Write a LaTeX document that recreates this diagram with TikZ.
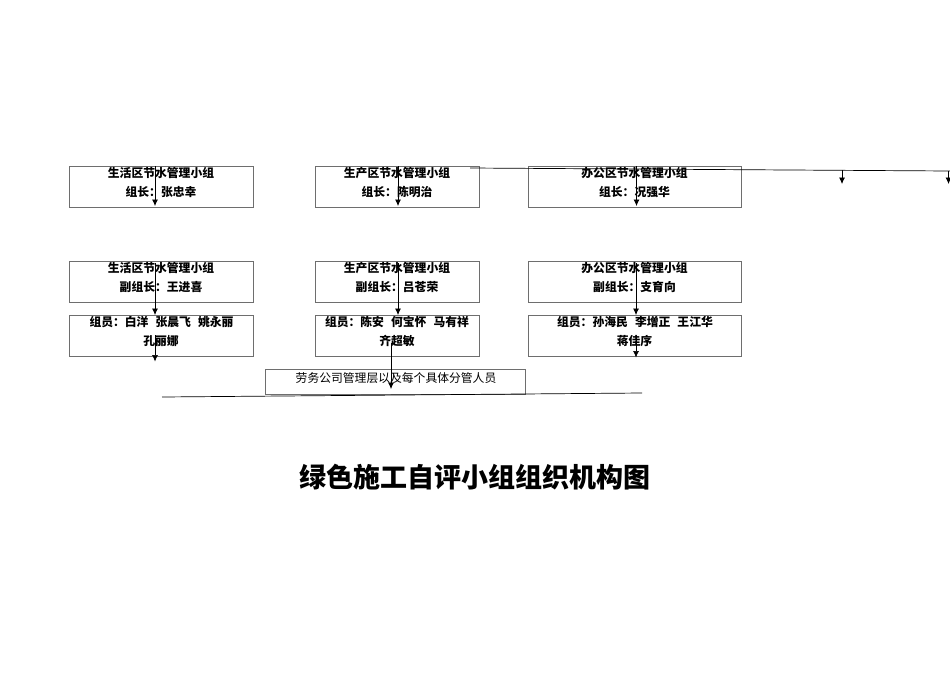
\documentclass[tikz,border=0pt]{standalone}
\usepackage{fontspec}
\setmainfont{Noto Sans CJK SC}
\usetikzlibrary{arrows.meta}
\definecolor{boxgray}{RGB}{110,110,110}
\tikzset{
  box/.style={draw=boxgray, line width=0.8pt, inner sep=0pt, minimum height=41pt},
  lbl/.style={font=\fontsize{11.8}{13}\selectfont\bfseries, inner sep=0pt},
  plain/.style={font=\fontsize{11.8}{13}\selectfont, inner sep=0pt},
  ttl/.style={font=\fontsize{27}{30}\selectfont\bfseries, inner sep=0pt},
  arr/.style={-{Latex[length=6.5pt,width=6pt]}, line width=0.7pt},
  ln/.style={line width=0.7pt},
}
\begin{document}
\begin{tikzpicture}[x=1pt,y=-1pt]
\useasboundingbox (0,0) rectangle (950,672);
% boxes
\node[box, minimum width=184pt] (A1) at (161,187) {};
\node[box, minimum width=164pt] (B1) at (397,187) {};
\node[box, minimum width=213pt] (C1) at (634.5,187) {};
\node[box, minimum width=184pt] (A2) at (161,281.5) {};
\node[box, minimum width=164pt] (B2) at (397,281.5) {};
\node[box, minimum width=213pt] (C2) at (634.5,281.5) {};
\node[box, minimum width=184pt] (A3) at (161,335.5) {};
\node[box, minimum width=164pt] (B3) at (397,335.5) {};
\node[box, minimum width=213pt] (C3) at (634.5,335.5) {};
\node[box, minimum width=260pt, minimum height=25pt] (D) at (395,382) {};
% texts
\node[lbl] (A1a) at (161,173) {生活区节水管理小组};
\node[lbl] (A1b) at (161,192) {组长：张忠幸};
\node[lbl] (B1a) at (397,173) {生产区节水管理小组};
\node[lbl] (B1b) at (397,192) {组长：陈明治};
\node[lbl] (C1a) at (634.5,173) {办公区节水管理小组};
\node[lbl] (C1b) at (634.5,192) {组长：况强华};
\node[lbl] (A2a) at (161,268) {生活区节水管理小组};
\node[lbl] (A2b) at (161,287) {副组长：王进喜};
\node[lbl] (B2a) at (397,268) {生产区节水管理小组};
\node[lbl] (B2b) at (397,287) {副组长：吕苍荣};
\node[lbl] (C2a) at (634.5,268) {办公区节水管理小组};
\node[lbl] (C2b) at (634.5,287) {副组长：支育向};
\node[lbl] (A3a) at (161.5,322) {组员：白洋\hspace{0.6em}张晨飞\hspace{0.6em}姚永丽};
\node[lbl] (A3b) at (161,341) {孔丽娜};
\node[lbl] (B3a) at (397,322) {组员：陈安\hspace{0.6em}何宝怀\hspace{0.6em}马有祥};
\node[lbl] (B3b) at (397,341) {齐超敏};
\node[lbl] (C3a) at (635,322) {组员：孙海民\hspace{0.6em}李增正\hspace{0.6em}王江华};
\node[lbl] (C3b) at (634.5,341) {蒋佳序};
\node[plain] (Dt) at (396,378) {劳务公司管理层以及每个具体分管人员};
\node[ttl] (T) at (475,477) {绿色施工自评小组组织机构图};
% connector coordinates
\coordinate (a1s) at (155,166); \coordinate (a1e) at (155,206);
\coordinate (b1s) at (398,166); \coordinate (b1e) at (398,206);
\coordinate (c1s) at (636.5,166); \coordinate (c1e) at (636.5,206);
\coordinate (hs) at (470,168); \coordinate (he) at (950,171);
\coordinate (h1s) at (842,170.3); \coordinate (h1e) at (842,184);
\coordinate (h2s) at (948.5,171); \coordinate (h2e) at (948.5,184);
\coordinate (a2s) at (155,263); \coordinate (a2e) at (155,315);
\coordinate (b2s) at (398,263); \coordinate (b2e) at (398,315);
\coordinate (c2s) at (636,263); \coordinate (c2e) at (636,315);
\coordinate (a3s) at (155,335); \coordinate (a3e) at (155,361.5);
\coordinate (b3s) at (391,343); \coordinate (b3e) at (391,389);
\coordinate (c3s) at (636,336); \coordinate (c3e) at (636,357.5);
\coordinate (ls) at (162,397); \coordinate (le) at (642,393);
% connectors
\draw[arr] (a1s) -- (a1e);
\draw[arr] (b1s) -- (b1e);
\draw[arr] (c1s) -- (c1e);
\draw[ln] (hs) -- (he);
\draw[arr] (h1s) -- (h1e);
\draw[arr] (h2s) -- (h2e);
\draw[arr] (a2s) -- (a2e);
\draw[arr] (b2s) -- (b2e);
\draw[arr] (c2s) -- (c2e);
\draw[arr] (a3s) -- (a3e);
\draw[arr] (b3s) -- (b3e);
\draw[arr] (c3s) -- (c3e);
\draw[ln] (ls) -- (le);
\end{tikzpicture}
\end{document}
